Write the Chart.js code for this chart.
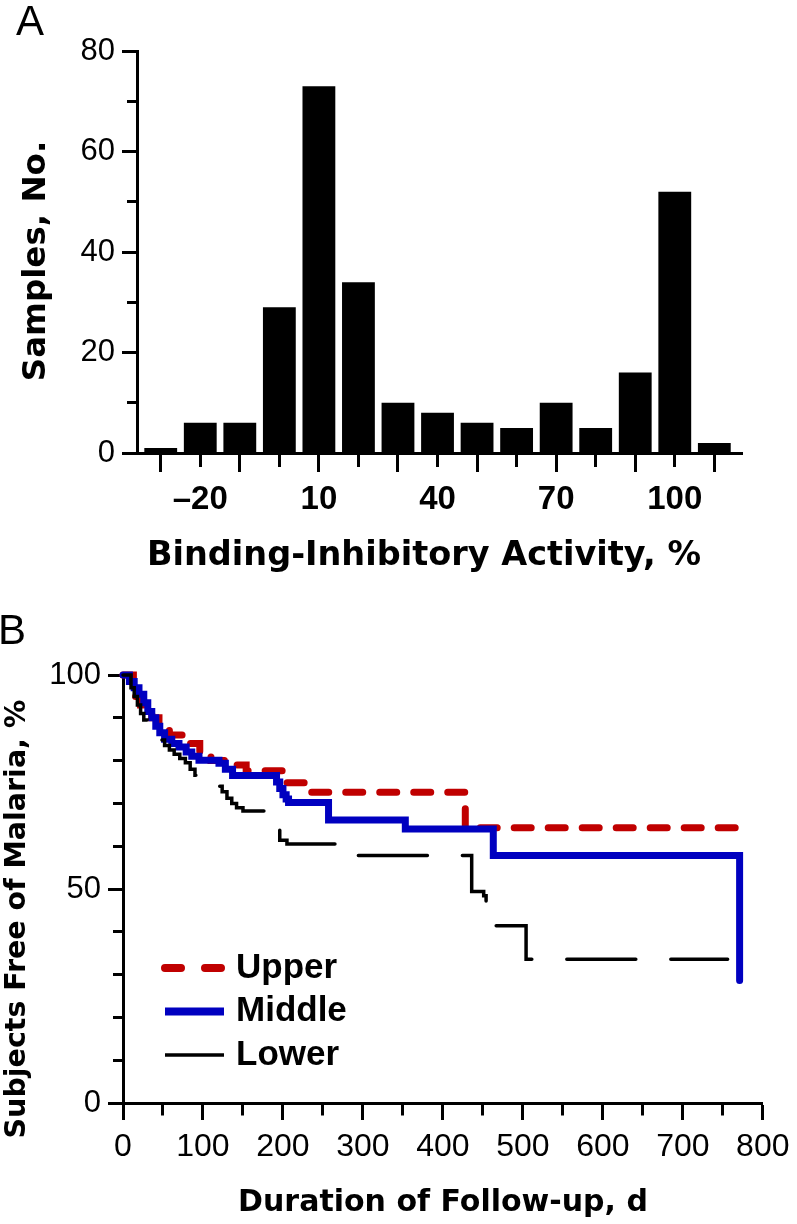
<!DOCTYPE html>
<html>
<head>
<meta charset="utf-8">
<script src="https://cdn.jsdelivr.net/npm/chart.js@4.4.1/dist/chart.umd.min.js"></script>
<style>
  html, body { margin: 0; padding: 0; background: #fff; }
  body { width: 797px; height: 1224px; position: relative; overflow: hidden;
         font-family: 'Liberation Sans', Arial, sans-serif; color: #000; }
  .panel { position: absolute; left: 0; }
  .panel canvas { display: block; }
  .txt { position: absolute; white-space: nowrap; line-height: 1; }
  .ttl { font-family: 'DejaVu Sans', Verdana, sans-serif; font-weight: bold; }
  .mid { transform: translate(-50%, -50%); }
  .rot { transform: translate(-50%, -50%) rotate(-90deg); }
</style>
</head>
<body>
<div class="panel" style="top:0"><canvas id="histChart" width="797" height="600"></canvas></div>
<div class="panel" style="top:600px"><canvas id="kmChart" width="797" height="624"></canvas></div>

<div class="txt" style="left:16px;top:0;font-size:42px">A</div>
<div class="txt ttl rot" style="left:34px;top:261px;font-size:32.5px">Samples, No.</div>
<div class="txt ttl mid" style="left:424px;top:554px;font-size:33.5px">Binding-Inhibitory Activity, %</div>

<div class="txt" style="left:-2px;top:609px;font-size:42px">B</div>
<div class="txt ttl rot" style="left:16px;top:919px;font-size:28.5px">Subjects Free of Malaria, %</div>
<div class="txt ttl mid" style="left:443px;top:1201px;font-size:30px">Duration of Follow-up, d</div>

<script>
// Panel A: histogram
const binCenters = [-30, -20, -10, 0, 10, 20, 30, 40, 50, 60, 70, 80, 90, 100, 110];
const sampleCounts = [1, 6, 6, 29, 73, 34, 10, 8, 6, 5, 10, 5, 16, 52, 2];
const binTickLabels = [-20, 10, 40, 70, 100];
const countTickLabels = [0, 20, 40, 60, 80];

// Panel B: Kaplan-Meier curves (day, % free)
const upperDays = [0, 13, 22, 36, 45, 58, 81, 96, 110, 137, 154, 200, 232, 428, 772];
const upperFree = [100, 95, 93, 90, 88.5, 86, 84, 82, 80, 79, 77.6, 74.8, 72.6, 64.3, 64.3];
const middleDays = [0, 8, 14, 20, 26, 31, 36, 41, 46, 52, 61, 70, 79, 86, 95, 120, 128, 137, 192, 196, 200, 204, 207, 257, 353, 463, 771];
const middleFree = [100, 98.5, 97, 95.5, 93.5, 91.5, 90, 88, 86.5, 85, 84, 83.2, 82, 81, 80.1, 79.4, 78, 76.5, 75, 73.5, 72, 71, 70.2, 66.1, 64.0, 57.8, 28.6];
const lowerDays = [0, 10, 14, 18, 22, 26, 30, 38, 46, 52, 58, 64, 71, 78, 84, 90, 100, 112, 118, 124, 130, 136, 142, 150, 180, 191, 196, 205, 270, 436, 451, 454, 504, 756];
const lowerFree = [100, 97, 95, 93, 91, 89.5, 88, 86, 84.8, 83.5, 82.5, 81.5, 80.5, 79.5, 78, 76.6, 75.5, 74.8, 74, 72.7, 71.2, 70, 69, 68.2, 66, 64.2, 61.4, 60.5, 57.8, 49.4, 48.4, 41.4, 33.6, 33.6];
const dayTickLabels = [0, 100, 200, 300, 400, 500, 600, 700, 800];
const freeTickLabels = [0, 50, 100];
const groupNames = ['Upper', 'Middle', 'Lower'];

Chart.defaults.font.family = "'Liberation Sans', Arial, sans-serif";
Chart.defaults.color = '#000';

const toPoints = (xs, ys) => xs.map((x, i) => ({ x: x, y: ys[i] }));

// shorter ticks: only dash the part of the tick next to the axis
function shortDash(isLong, len) { return isLong ? [] : [len, 100]; }

function initHistogram() {
  const ctx = document.getElementById('histChart');
  new Chart(ctx, {
    type: 'bar',
    data: {
      datasets: [{
        data: toPoints(binCenters, sampleCounts),
        backgroundColor: '#000',
        borderWidth: 0,
        categoryPercentage: 1,
        barPercentage: 0.83
      }]
    },
    options: {
      responsive: false,
      animation: false,
      layout: { padding: { top: 51, right: 55, bottom: 0, left: 0 } },
      plugins: { legend: { display: false }, tooltip: { enabled: false } },
      scales: {
        x: {
          type: 'linear',
          min: -36,
          max: 117,
          offset: false,
          afterBuildTicks: s => { s.ticks = binCenters.map(v => ({ value: v })); },
          afterFit: s => { s.height = 147; },
          border: { display: true, width: 3, color: '#000' },
          grid: {
            drawOnChartArea: false, offset: false, tickLength: 19, tickWidth: 3, tickColor: '#000',
            tickBorderDash: c => shortDash((c.tick.value + 30) % 20 === 0, 12)
          },
          ticks: {
            autoSkip: false, maxRotation: 0, padding: 8,
            font: { size: 33, weight: 'bold' },
            callback: v => binTickLabels.includes(v) ? (v < 0 ? '\u2013' + Math.abs(v) : String(v)) : ''
          }
        },
        y: {
          min: 0,
          max: 80,
          afterFit: s => { s.width = 137; },
          border: { display: true, width: 3, color: '#000' },
          grid: {
            drawOnChartArea: false, tickLength: 15, tickWidth: 3, tickColor: '#000',
            tickBorderDash: c => shortDash(countTickLabels.includes(c.tick.value), 10),
            tickBorderDashOffset: c => countTickLabels.includes(c.tick.value) ? 0 : -5
          },
          ticks: {
            stepSize: 10, padding: 7,
            font: { size: 31 },
            callback: v => countTickLabels.includes(v) ? String(v) : ''
          }
        }
      }
    }
  });
}

const kmLegend = {
  id: 'kmLegend',
  afterDatasetsDraw(chart, args, opts) {
    const c = chart.ctx;
    chart.data.datasets.forEach((ds, i) => {
      const y = opts.top + i * opts.rowGap;
      c.save();
      c.strokeStyle = ds.borderColor;
      c.lineWidth = opts.widths[i];
      c.lineCap = opts.caps[i];
      c.setLineDash(opts.dashes[i]);
      c.beginPath();
      c.moveTo(opts.x1, y);
      c.lineTo(opts.x2, y);
      c.stroke();
      c.restore();
      c.save();
      c.fillStyle = '#000';
      c.font = opts.font;
      c.textBaseline = 'middle';
      c.fillText(ds.label, opts.textX, y);
      c.restore();
    });
  }
};

function initSurvival() {
  const ctx = document.getElementById('kmChart');
  new Chart(ctx, {
    type: 'line',
    data: {
      datasets: [
        {
          label: groupNames[0],
          data: toPoints(upperDays, upperFree),
          borderColor: '#c00000',
          borderWidth: 7,
          borderDash: [17, 17],
          borderCapStyle: 'round',
          stepped: true, pointRadius: 0, clip: 10, order: 2
        },
        {
          label: groupNames[1],
          data: toPoints(middleDays, middleFree),
          borderColor: '#0000c0',
          borderWidth: 7,
          borderCapStyle: 'round',
          stepped: true, pointRadius: 0, clip: 10, order: 1
        },
        {
          label: groupNames[2],
          data: toPoints(lowerDays, lowerFree),
          borderColor: '#000',
          borderWidth: 3.5,
          borderDash: [69, 35],
          borderCapStyle: 'round',
          stepped: true, pointRadius: 0, clip: 10, order: 0
        }
      ]
    },
    options: {
      responsive: false,
      animation: false,
      layout: { padding: { top: 75, right: 31, bottom: 0, left: 0 } },
      plugins: {
        legend: { display: false },
        tooltip: { enabled: false },
        kmLegend: {
          x1: 165, x2: 224, textX: 236, top: 368, rowGap: 43.5,
          widths: [8, 8, 3.5], caps: ['round', 'butt', 'butt'],
          dashes: [[16, 24], [], []],
          font: "bold 35px 'Liberation Sans', Arial, sans-serif"
        }
      },
      scales: {
        x: {
          type: 'linear',
          min: 0,
          max: 800,
          afterFit: s => { s.height = 121; },
          border: { display: true, width: 3, color: '#000' },
          grid: {
            drawOnChartArea: false, tickLength: 17, tickWidth: 3, tickColor: '#000',
            tickBorderDash: c => shortDash(dayTickLabels.includes(c.tick.value), 10.5)
          },
          ticks: {
            stepSize: 50, autoSkip: false, maxRotation: 0, padding: 7.5,
            font: { size: 32 },
            callback: v => dayTickLabels.includes(v) ? String(v) : ''
          }
        },
        y: {
          min: 0,
          max: 100,
          afterFit: s => { s.width = 123; },
          border: { display: true, width: 3, color: '#000' },
          grid: {
            drawOnChartArea: false, tickLength: 15, tickWidth: 3, tickColor: '#000',
            tickBorderDash: c => shortDash(freeTickLabels.includes(c.tick.value), 10),
            tickBorderDashOffset: c => freeTickLabels.includes(c.tick.value) ? 0 : -5
          },
          ticks: {
            stepSize: 10, padding: 7,
            font: { size: 31 },
            callback: v => freeTickLabels.includes(v) ? String(v) : ''
          }
        }
      }
    },
    plugins: [kmLegend]
  });
}

initHistogram();
initSurvival();
</script>
</body>
</html>
